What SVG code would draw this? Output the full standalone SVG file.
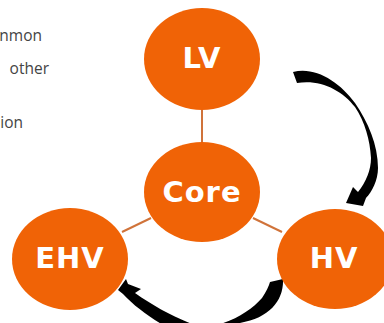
<svg xmlns="http://www.w3.org/2000/svg" width="384" height="323" viewBox="0 0 384 323">
<style>
.node{fill:#F06306}
.lbl{font-family:"DejaVu Sans",Verdana,sans-serif;font-weight:bold;font-size:29px;fill:#fff;text-anchor:middle;letter-spacing:1px}
.side{font-family:"Open Sans","Liberation Sans",sans-serif;font-size:15.5px;fill:#444;text-anchor:end}
.link{stroke:#D0733A;stroke-width:2;fill:none}
.arr{fill:#000}
</style>
<rect width="384" height="323" fill="#fff"/>
<text class="side" x="42" y="41">nmon</text>
<text class="side" x="49" y="74">other</text>
<text class="side" x="23" y="128">ion</text>
<g id="connectors">
<line class="link" x1="202" y1="109" x2="202" y2="143"/>
<line class="link" x1="122" y1="232" x2="151" y2="218"/>
<line class="link" x1="253" y1="218" x2="282" y2="232"/>
<path class="arr" d="M 293,72 C 315,66 340,82 355,103 C 368,122 378,145 378,168 C 378,180 372,192 366,198 L 363,206 L 346,203 L 353,187 L 358,192 C 366,182 371,170 371,158 C 370,140 365,122 355,107 C 342,90 320,79 297,83 Z"/>
<path class="arr" d="M 118,290 L 126,279 L 128,284 L 141,289 L 135,293 C 155,307 175,318 200,327 C 225,327 250,312 262,298 C 266,292 269,286 270,282 L 283,279 C 284,300 270,318 240,323 L 240,330 L 163,330 L 163,325 C 148,316 133,305 123,294 Z"/>
</g>
<g id="LV"><ellipse class="node" cx="202" cy="59" rx="58" ry="51"/><text class="lbl" x="202" y="68">LV</text></g>
<g id="Core"><ellipse class="node" cx="202" cy="192" rx="58" ry="50"/><text class="lbl" x="202" y="202">Core</text></g>
<g id="EHV"><ellipse class="node" cx="70" cy="259" rx="58" ry="51"/><text class="lbl" x="70" y="268">EHV</text></g>
<g id="HV"><ellipse class="node" cx="335" cy="259" rx="58" ry="50"/><text class="lbl" x="334" y="268">HV</text></g>
</svg>
